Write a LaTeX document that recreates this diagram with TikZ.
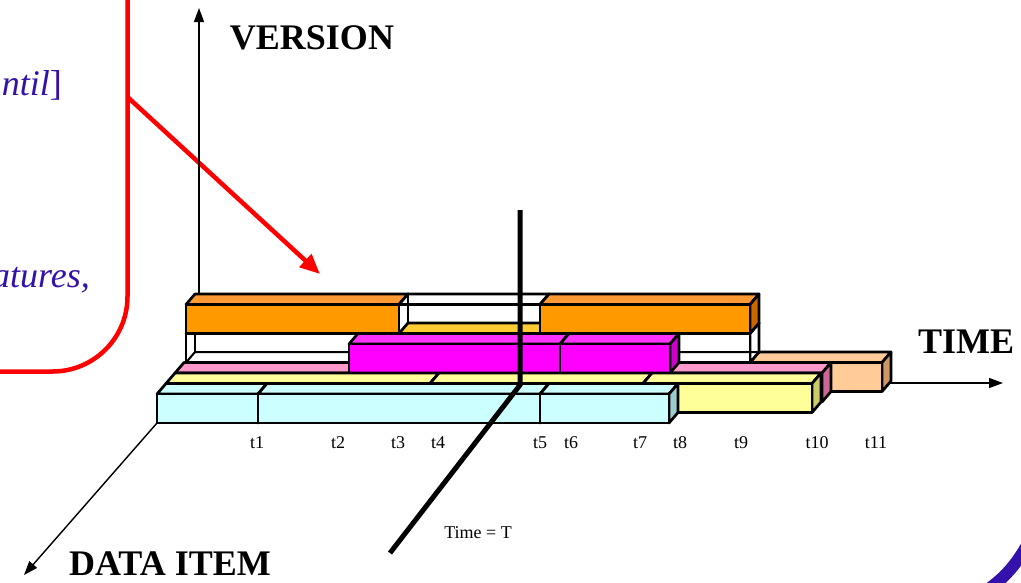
\documentclass[tikz,border=0pt]{standalone}
\usepackage{fontspec}
\setmainfont{Liberation Serif}
\usetikzlibrary{arrows.meta}
\definecolor{cyanF}{HTML}{CCFFFF}
\definecolor{cyanS}{HTML}{99CCCC}
\definecolor{yelF}{HTML}{FFFF99}
\definecolor{yelS}{HTML}{CCCC66}
\definecolor{pinkF}{HTML}{FF99CC}
\definecolor{pinkS}{HTML}{CC6699}
\definecolor{peachF}{HTML}{FFCC99}
\definecolor{peachS}{HTML}{CC9966}
\definecolor{magF}{HTML}{FF00FF}
\definecolor{magT}{HTML}{FF33FF}
\definecolor{magS}{HTML}{CC00CC}
\definecolor{orgF}{HTML}{FF9900}
\definecolor{orgT}{HTML}{FF9933}
\definecolor{orgS}{HTML}{CC6600}
\definecolor{goldF}{HTML}{FFCC33}
\definecolor{indigo}{HTML}{3311AA}
\tikzset{
  boxline/.style={draw=black, line width=2.7pt, line join=round},
  hiddenline/.style={draw=black, line width=2pt, line join=round},
  axisline/.style={draw=black, line width=1.4pt, -{Triangle[length=14pt,width=10pt]}},
  axislabel/.style={font=\fontsize{36}{40}\selectfont\bfseries, inner sep=0pt},
  tlabel/.style={font=\fontsize{18}{20}\selectfont, inner sep=0pt},
  callout/.style={draw=red, line width=4.5pt, rounded corners=75pt, minimum width=400pt, minimum height=500pt, inner sep=0pt, outer sep=0pt},
  callouttext/.style={font=\fontsize{36}{40}\selectfont\itshape, text=indigo, inner sep=0pt},
  redarrow/.style={draw=red, line width=4.5pt, -{Triangle[length=20pt,width=17pt]}},
  timeline/.style={draw=black, line width=5pt},
  frameline/.style={draw=indigo, line width=12pt},
}
% opaque box: left x, right x, bottom y, front, top, side colours
\newcommand{\dbbox}[6]{%
  \pgfmathsetmacro{\dbyt}{#3-29}%
  \filldraw[boxline, fill=#5] (#1,\dbyt) -- (#1+9,\dbyt-10.5) -- (#2+9,\dbyt-10.5) -- (#2,\dbyt) -- cycle;
  \filldraw[boxline, fill=#6] (#2,\dbyt) -- (#2+9,\dbyt-10.5) -- (#2+9,#3-10.5) -- (#2,#3) -- cycle;
  \filldraw[boxline, fill=#4] (#1,\dbyt) rectangle (#2,#3);
}
% white see-through box: left x, right x, bottom y
\newcommand{\dbwire}[3]{%
  \pgfmathsetmacro{\dbyt}{#3-29}%
  \filldraw[boxline, fill=white] (#1,\dbyt) -- (#1+9,\dbyt-10.5) -- (#2+9,\dbyt-10.5) -- (#2,\dbyt) -- cycle;
  \filldraw[boxline, fill=white] (#2,\dbyt) -- (#2+9,\dbyt-10.5) -- (#2+9,#3-10.5) -- (#2,#3) -- cycle;
  \filldraw[boxline, fill=white] (#1,\dbyt) rectangle (#2,#3);
  \draw[hiddenline] (#1,#3) -- (#1+9,#3-10.5) -- (#2+9,#3-10.5);
  \draw[hiddenline] (#1+9,#3-10.5) -- (#1+9,\dbyt-10.5);
}
\begin{document}
\begin{tikzpicture}[x=1pt, y=-1pt]
\useasboundingbox (0,0) rectangle (1021,582);
\fill[white] (0,0) rectangle (1021,582);

% callout
\node[callout, anchor=south east] (callout) at (127.5,371.5) {};
\node[callouttext, anchor=base east] (ctext1) at (62,95) {ntil\/\upshape]};
\node[callouttext, anchor=base east] (ctext2) at (90,287) {atures,};
\coordinate (cfrom) at (127.5,97);
\coordinate (cto) at (320,274);
\draw[redarrow] (cfrom) -- (cto);

% axes
\coordinate (origin) at (199,383);
\coordinate (vtip) at (199,8);
\coordinate (ttip) at (1003,383);
\coordinate (dcorner) at (157,423);
\coordinate (dtip) at (24,575);
\draw[axisline] (origin) -- (vtip);
\draw[axisline] (origin) -- (ttip);
\draw[axisline] (dcorner) -- (dtip);

% row 3 (back), level 0
\dbbox{186}{750}{391.5}{white}{white}{white}
\dbbox{750}{882}{391.5}{peachF}{peachF}{peachS}
% row 3, level 1
\dbwire{186}{399}{362.5}
\dbbox{399}{540}{362.5}{goldF}{goldF}{goldF}
\dbwire{540}{750}{362.5}
% row 3, level 2
\dbbox{186}{399}{333.5}{orgF}{orgT}{orgS}
\dbwire{399}{540}{333.5}
\filldraw[boxline, fill=goldF] (399,333.5) -- (408,323) -- (549,323) -- (540,333.5) -- cycle;
\dbbox{540}{750}{333.5}{orgF}{orgT}{orgS}
% row 2
\dbbox{175}{822}{402}{pinkF}{pinkF}{pinkS}
\dbbox{349}{560}{373}{magF}{magT}{magS}
\dbbox{560}{670}{373}{magF}{magT}{magS}
% row 1
\dbbox{166}{430}{412.5}{yelF}{yelF}{yelS}
\dbbox{430}{643}{412.5}{yelF}{yelF}{yelS}
\dbbox{643}{812}{412.5}{yelF}{yelF}{yelS}
% row 0 (front)
\dbbox{157}{258}{423}{cyanF}{cyanF}{cyanS}
\dbbox{258}{540}{423}{cyanF}{cyanF}{cyanS}
\dbbox{540}{669}{423}{cyanF}{cyanF}{cyanS}

% time = T line
\coordinate (tt1) at (520,210);
\coordinate (tt2) at (520,385);
\coordinate (tt3) at (390,553);
\draw[timeline] (tt1) -- (tt2) -- (tt3);

% labels
\node[axislabel] (lversion) at (312,38) {VERSION};
\node[axislabel] (ltime) at (966,342) {TIME};
\node[axislabel] (ldata) at (170,564) {DATA ITEM};
\node[tlabel] (t1) at (257,443) {t1};
\node[tlabel] (t2) at (338,443) {t2};
\node[tlabel] (t3) at (398,443) {t3};
\node[tlabel] (t4) at (438,443) {t4};
\node[tlabel] (t5) at (540,443) {t5};
\node[tlabel] (t6) at (571,443) {t6};
\node[tlabel] (t7) at (640,443) {t7};
\node[tlabel] (t8) at (680,443) {t8};
\node[tlabel] (t9) at (741,443) {t9};
\node[tlabel] (t10) at (817,443) {t10};
\node[tlabel] (t11) at (876,443) {t11};
\node[tlabel] (ltt) at (478,533) {Time = T};

% slide frame corner
\coordinate (b1) at (975,598);
\coordinate (b2) at (1030,540);
\draw[frameline] (b1) to[bend right=15] (b2);
\end{tikzpicture}
\end{document}
